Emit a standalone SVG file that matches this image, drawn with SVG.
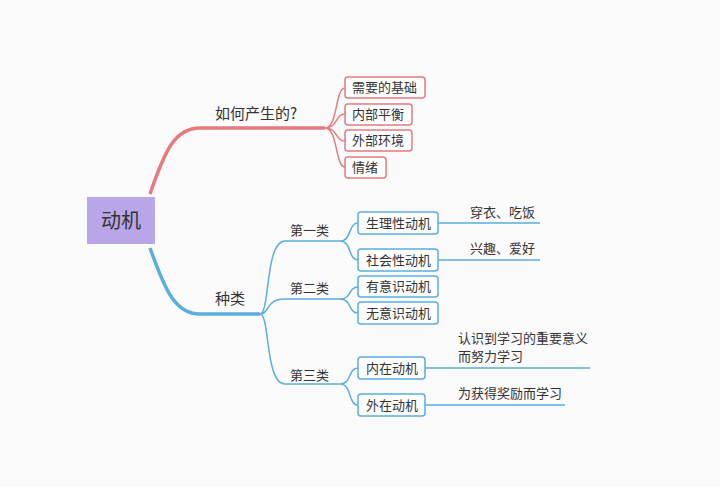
<svg xmlns="http://www.w3.org/2000/svg" width="720" height="487" viewBox="0 0 720 487">
<style>
text{font-family:"Noto Sans CJK SC","Liberation Sans",sans-serif;fill:#333;font-size:13px}
.r{fill:#fff;stroke:#e27b80;stroke-width:1.5}
.b{fill:#fff;stroke:#5aaee0;stroke-width:1.5}
.lr{fill:none;stroke:#e87a7f;stroke-width:1.5}
.lb{fill:none;stroke:#5aaee0;stroke-width:1.5}
</style>
<rect width="720" height="487" fill="#fbfbfb"/>
<g id="connectors">
<path d="M150 194 C165 150 175 128 200 128 L325 128" class="lr" stroke-width="3.5" style="stroke-width:3.5"/>
<path d="M325 128 C338 128 335 88 345 88 M325 128 C338 128 335 114 345 114 M325 128 C338 128 335 141 345 141 M325 128 C338 128 335 167 345 167" class="lr"/>
<path d="M150 248 C165 290 175 314 200 314 L260 314" class="lb" style="stroke-width:3.5"/>
<path d="M260 314 C270 314 265 241 285 241 L340 241 M260 314 C270 314 265 299 285 299 L340 299 M260 314 C270 314 265 384 285 384 L340 384" class="lb"/>
<path d="M340 241 C352 241 348 223 358 223 M340 241 C352 241 348 260 358 260 M340 299 C352 299 348 287 358 287 M340 299 C352 299 348 313 358 313 M340 384 C352 384 348 368 358 368 M340 384 C352 384 348 405 358 405" class="lb"/>
<path d="M438 223 L540 223 M438 260 L540 260 M425 368 L590 368 M425 405 L565 405" class="lb"/>
</g>
<g id="root"><rect x="87" y="197" width="68" height="47" fill="#b8a6e9"/><text x="121" y="228" text-anchor="middle" style="font-size:20px">动机</text></g>
<g id="n1"><text x="215" y="119" style="font-size:15px">如何产生的?</text></g>
<g id="n1a"><rect class="r" x="345" y="77" width="80" height="21" rx="3"/><text x="352" y="92">需要的基础</text></g>
<g id="n1b"><rect class="r" x="345" y="104" width="67" height="21" rx="3"/><text x="352" y="119">内部平衡</text></g>
<g id="n1c"><rect class="r" x="345" y="130" width="67" height="21" rx="3"/><text x="352" y="145">外部环境</text></g>
<g id="n1d"><rect class="r" x="345" y="157" width="41" height="21" rx="3"/><text x="352" y="172">情绪</text></g>
<g id="n2"><text x="215" y="304" style="font-size:15px">种类</text></g>
<g id="c1"><text x="290" y="235">第一类</text></g>
<g id="c2"><text x="290" y="293">第二类</text></g>
<g id="c3"><text x="290" y="380">第三类</text></g>
<g id="b1"><rect class="b" x="358" y="212" width="80" height="22" rx="3"/><text x="366" y="228">生理性动机</text></g>
<g id="b2"><rect class="b" x="358" y="249" width="80" height="22" rx="3"/><text x="366" y="265">社会性动机</text></g>
<g id="b3"><rect class="b" x="358" y="276" width="80" height="21" rx="3"/><text x="366" y="291">有意识动机</text></g>
<g id="b4"><rect class="b" x="358" y="302" width="80" height="22" rx="3"/><text x="366" y="318">无意识动机</text></g>
<g id="b5"><rect class="b" x="358" y="357" width="67" height="22" rx="3"/><text x="366" y="373">内在动机</text></g>
<g id="b6"><rect class="b" x="358" y="394" width="67" height="22" rx="3"/><text x="366" y="410">外在动机</text></g>
<g id="t1"><text x="470" y="217">穿衣、吃饭</text></g>
<g id="t2"><text x="470" y="253">兴趣、爱好</text></g>
<g id="t3"><text x="458" y="343">认识到学习的重要意义</text><text x="458" y="361">而努力学习</text></g>
<g id="t4"><text x="458" y="398">为获得奖励而学习</text></g>
</svg>
